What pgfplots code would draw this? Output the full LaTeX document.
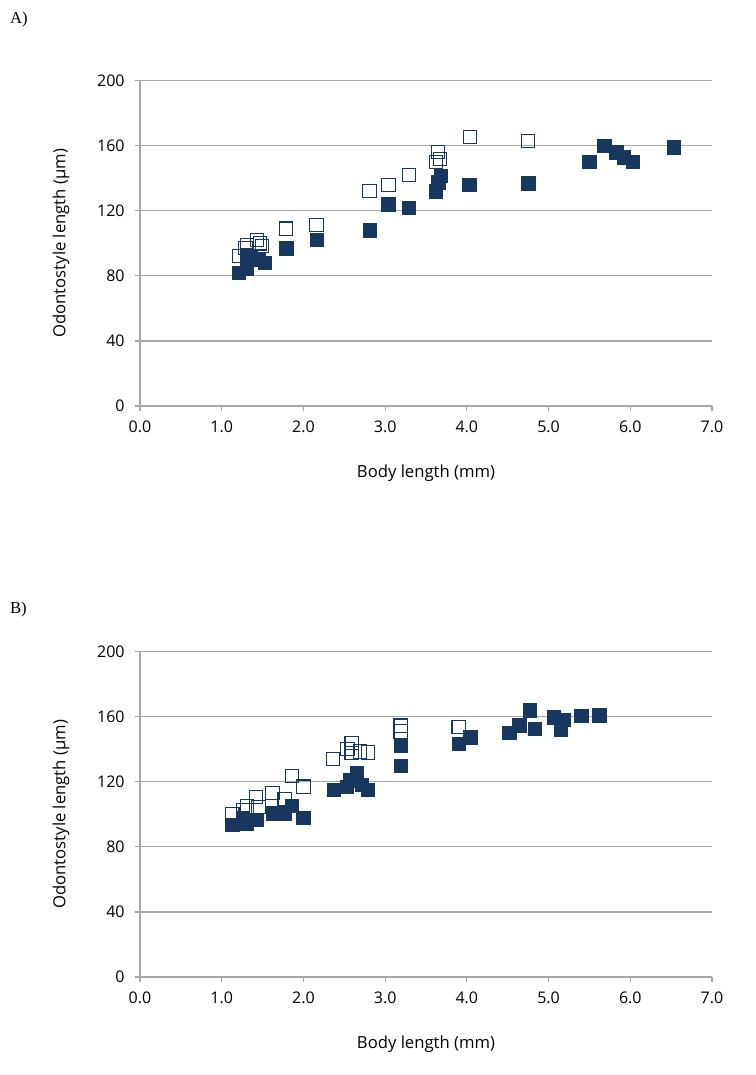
\documentclass[border=0pt]{standalone}
\usepackage{pgfplots}
\pgfplotsset{compat=1.18}
\usepackage{fontspec}
\setmainfont{Open Sans}
\newfontfamily\seriffont{Liberation Serif}
\definecolor{navy}{HTML}{17375E}
\definecolor{gridgray}{HTML}{A6A6A6}
\pgfplotsset{
  panel/.style={
    scale only axis,
    width=429pt, height=244pt,
    xmin=0, xmax=7, ymin=0, ymax=200,
    xtick={0,1,...,7}, ytick={0,40,...,200},
    axis lines*=left,
    axis line style={gridgray, line width=0.9pt},
    tick style={gridgray, line width=0.9pt},
    tick align=outside,
    major tick length=4pt,
    ymajorgrids,
    grid style={gridgray, line width=0.9pt},
    xticklabel style={/pgf/number format/fixed, /pgf/number format/fixed zerofill, /pgf/number format/precision=1, yshift=-4pt},
    yticklabel style={xshift=-4pt},
    /pgf/number format/assume math mode=true,
    ticklabel style={font=\fontsize{12}{14}\selectfont, text=black},
    xlabel={Body length (mm)},
    ylabel={Odontostyle length (µm)},
    label style={font=\fontsize{12.5}{15}\selectfont},
    xlabel style={yshift=-17pt},
    ylabel style={yshift=14pt},
    clip=false,
  },
  openm/.style={only marks, mark=square, mark size=5pt, mark options={draw=navy, line width=0.8pt, fill=white}},
  fillm/.style={only marks, mark=square*, mark size=5pt, mark options={draw=navy, fill=navy, line width=0.4pt}},
}
\begin{document}
\begin{tikzpicture}
\useasboundingbox (0,0) rectangle (567pt,806.25pt);
\node[anchor=north west, font=\seriffont\fontsize{12.5}{14}\selectfont] at (4pt,801pt) {A)};
\node[anchor=north west, font=\seriffont\fontsize{12.5}{14}\selectfont] at (4pt,358pt) {B)};
\begin{axis}[panel, at={(105pt,501.75pt)}, anchor=south west]
\addplot[openm] coordinates {
(1.21,92.3) (1.29,97) (1.31,99) (1.43,102) (1.47,100) (1.49,98.5)
(1.79,109) (2.16,111.4) (2.81,132) (3.04,135.8) (3.29,142)
(3.62,150) (3.67,152) (3.65,156.1) (4.04,165.3) (4.75,163)
};
\addplot[fillm] coordinates {
(1.21,82) (1.31,84.7) (1.35,91) (1.31,93) (1.45,90) (1.53,88.2)
(1.79,97) (2.16,102) (2.81,108) (3.04,124) (3.29,122)
(3.62,132) (3.65,137.6) (3.68,141.7) (4.03,136) (4.75,137)
(5.50,150) (5.68,160) (5.83,156) (5.92,153) (6.03,150) (6.53,159)
};
\end{axis}
\begin{axis}[panel, at={(105pt,73.5pt)}, anchor=south west]
\addplot[openm] coordinates {
(1.13,100.3) (1.26,102.8) (1.31,104.8) (1.45,104.4) (1.42,110.6)
(1.62,113) (1.77,109.5) (1.86,123.7) (2.00,117) (2.36,134)
(2.54,140.3) (2.59,143.8) (2.59,137.6) (2.69,138.7) (2.79,138)
(3.19,151) (3.19,154.5) (3.90,153.6)
};
\addplot[fillm] coordinates {
(1.13,93.5) (1.26,97.7) (1.31,94.6) (1.43,96.6) (1.63,100.7)
(1.77,100.7) (1.86,105.2) (2.00,97.7) (2.37,115) (2.53,117)
(2.57,121) (2.65,125.3) (2.71,118) (2.79,115) (3.19,130) (3.19,142)
(3.90,143.4) (4.04,147.3) (4.52,150) (4.64,154.7) (4.77,163.9)
(4.83,152.4) (5.06,159.6) (5.15,152) (5.18,158) (5.40,160.6) (5.62,160.8)
};
\end{axis}
\end{tikzpicture}
\end{document}
